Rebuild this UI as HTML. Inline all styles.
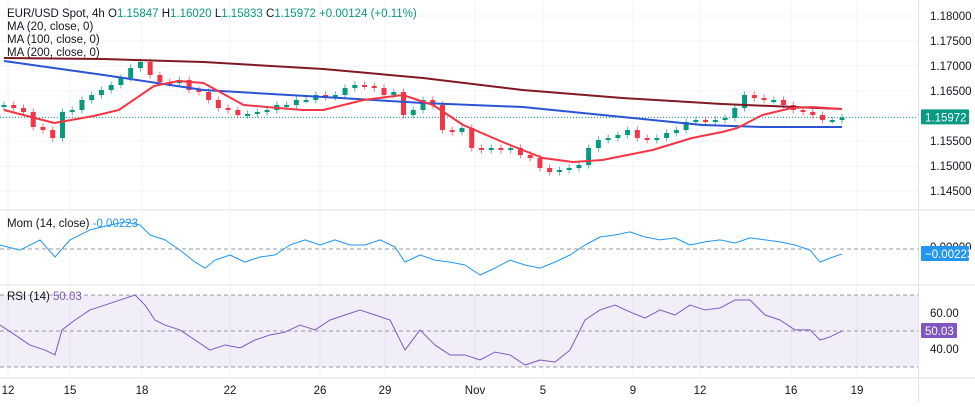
<!DOCTYPE html>
<html><head><meta charset="utf-8">
<style>
body{margin:0;background:#fff;font-family:"Liberation Sans",sans-serif;}
svg text{font-family:"Liberation Sans",sans-serif;}
</style></head>
<body>
<svg id="chart" width="975" height="402" viewBox="0 0 975 402" xmlns="http://www.w3.org/2000/svg">
<rect x="0" y="0" width="975" height="402" fill="#fff"/>
<g id="grid"></g>
<g id="rsiBand"></g>
<g id="candles"></g>
<g id="mas"></g>
<g id="mom"></g>
<g id="rsi"></g>
<g id="axes"></g>
<g id="legend">
<text x="7" y="17" font-size="11.5" fill="#131722">EUR/USD Spot, 4h <tspan fill="#131722">O</tspan><tspan fill="#089981">1.15847</tspan>  <tspan fill="#131722">H</tspan><tspan fill="#089981">1.16020</tspan>  <tspan fill="#131722">L</tspan><tspan fill="#089981">1.15833</tspan>  <tspan fill="#131722">C</tspan><tspan fill="#089981">1.15972</tspan>  <tspan fill="#089981">+0.00124 (+0.11%)</tspan></text>
<text x="7" y="30" font-size="11.5" fill="#131722">MA (20, close, 0)</text>
<text x="7" y="43" font-size="11.5" fill="#131722">MA (100, close, 0)</text>
<text x="7" y="56" font-size="11.5" fill="#131722">MA (200, close, 0)</text>
<text x="7" y="227" font-size="11.5" fill="#131722">Mom (14, close) <tspan fill="#2196f3">-0.00223</tspan></text>
<text x="7" y="300" font-size="11.5" fill="#131722">RSI (14) <tspan fill="#7e57c2">50.03</tspan></text>
</g>
</svg>
<script>
const closes=[1.1622,1.1616,1.1608,1.1578,1.1572,1.1556,1.1608,1.1612,1.1632,1.1642,1.1652,1.1662,1.1676,1.1696,1.1708,1.1682,1.1668,1.1666,1.1672,1.1652,1.1648,1.1632,1.1616,1.1612,1.1602,1.1604,1.1608,1.1612,1.1622,1.1622,1.1632,1.1632,1.1642,1.1638,1.1642,1.1656,1.1662,1.166,1.1656,1.1642,1.1648,1.1602,1.1612,1.1632,1.1622,1.1572,1.1568,1.1576,1.1536,1.1532,1.1536,1.1532,1.1536,1.1522,1.1516,1.1496,1.1488,1.1492,1.1496,1.1502,1.1536,1.1552,1.1556,1.1562,1.1572,1.1556,1.1552,1.1556,1.1566,1.1572,1.1588,1.1592,1.1588,1.1592,1.1596,1.1616,1.1642,1.1636,1.1632,1.1632,1.1622,1.1612,1.1608,1.1602,1.1592,1.1592,1.15972];
const firstOpen=1.1618;
const maPos20=[0,0.06,0.107,0.137,0.179,0.208,0.238,0.286,0.327,0.357,0.381,0.429,0.476,0.512,0.548,0.595,0.643,0.679,0.714,0.774,0.821,0.857,0.875,0.905,0.94,0.964,1];
const ma20=[1.1612,1.1586,1.1600,1.1612,1.1660,1.1670,1.1666,1.1622,1.1616,1.1612,1.1612,1.1632,1.1642,1.1622,1.1582,1.1548,1.1516,1.1508,1.1512,1.1532,1.1556,1.1568,1.1576,1.1602,1.1616,1.1618,1.1614];
const maPos100=[0,0.119,0.238,0.381,0.5,0.619,0.738,0.833,0.905,1];
const ma100=[1.1710,1.1682,1.1652,1.1638,1.1626,1.1618,1.1598,1.1582,1.1578,1.1578];
const maPos200=[0,0.119,0.238,0.381,0.5,0.619,0.738,0.857,1];
const ma200=[1.1716,1.1714,1.1708,1.1694,1.1676,1.1652,1.1636,1.1624,1.1614];
const momPos=[0,20,40,55,70,90,110,125,140,150,165,180,195,205,215,230,245,260,275,290,305,320,335,350,365,380,395,405,420,435,450,465,480,495,510,525,540,555,570,585,600,615,630,645,660,675,690,705,720,735,750,765,780,795,810,820,830,842];
const momVals=[0.0018,-0.0005,0.0041,-0.0036,0.0041,0.0086,0.0108,0.0122,0.0108,0.0063,0.0041,-0.0005,-0.0059,-0.0086,-0.005,-0.0027,-0.0059,-0.0036,-0.0027,0.0018,0.0041,0.0018,0.0041,0.0018,0.0018,0.0041,0.0009,-0.0059,-0.0027,-0.005,-0.0059,-0.0072,-0.0117,-0.0086,-0.005,-0.0072,-0.0086,-0.0059,-0.0027,0.0018,0.0054,0.0063,0.0077,0.0054,0.0041,0.005,0.0018,0.0032,0.0041,0.0027,0.005,0.0041,0.0032,0.0018,-0.0005,-0.0059,-0.0041,-0.00223];
const rsiX=[0,15,30,45,55,62,75,90,105,120,135,145,155,165,180,195,210,225,240,255,270,285,300,315,330,345,360,375,390,405,420,435,450,465,480,495,510,525,540,555,570,585,600,615,630,645,660,675,690,705,720,735,750,765,780,795,810,820,830,842];
const rsiVals=[53.3,47.8,42.2,39.4,36.7,50.6,56.1,61.7,64.4,67.2,70,64.4,56.1,53.3,50.6,45,39.4,42.2,40.6,45,47.8,49.4,53.3,50.6,56.1,58.9,61.7,58.9,56.1,39.4,50.6,42.2,36.7,36.7,33.9,38.3,36.7,31.1,33.9,32.8,39.4,56.1,61.7,64.4,60.6,57.2,61.7,58.9,64.4,61.7,62.8,67.2,67.2,58.9,56.1,50.6,50.6,45,46.7,50.03];
const priceTicks=[1.18,1.175,1.17,1.165,1.155,1.15,1.145];
const dateLabels=["12","15","18","22","26","29","Nov","5","9","12","16","19"];
const dateX=[8,70,142,230,320,385,475,543,633,700,791,857];

const NS="http://www.w3.org/2000/svg";
const x0=4,x1=842;
const yP=p=>16+(1.18-p)*5000;
const xI=i=>x0+(x1-x0)*i/(closes.length-1);
const xF=f=>x0+(x1-x0)*f;
const yMom=v=>249-v/0.00045;
const yRsi=r=>331-(r-50)*1.8;
function el(tag,attrs,parent){const e=document.createElementNS(NS,tag);for(const k in attrs)e.setAttribute(k,attrs[k]);parent.appendChild(e);return e;}

const grid=document.getElementById('grid');
priceTicks.forEach(p=>{const l=el('line',{x1:0,x2:918,y1:yP(p),y2:yP(p),stroke:'#f0f3fa'},grid);

});
dateX.forEach(x=>{const l=el('line',{x1:x,x2:x,y1:0,y2:378,stroke:'#f0f3fa'},grid);

});
[210,285,378].forEach(y=>{const l=el('line',{x1:0,x2:975,y1:y,y2:y,stroke:'#e0e3eb'},grid);

});
const vs=el('line',{x1:918.5,x2:918.5,y1:0,y2:402,stroke:'#e0e3eb'},grid);



const rb=document.getElementById('rsiBand');
const band=el('rect',{x:0,y:yRsi(70),width:918,height:yRsi(30)-yRsi(70),fill:'#7e57c2','fill-opacity':0.1},rb);


[70,50,30].forEach(v=>{const l=el('line',{x1:0,x2:918,y1:yRsi(v),y2:yRsi(v),stroke:'#9598a1','stroke-dasharray':'4,3'},rb);

});
const mz=el('line',{x1:0,x2:918,y1:yMom(0),y2:yMom(0),stroke:'#9598a1','stroke-dasharray':'4,3'},rb);


const lastC=closes[closes.length-1];
const lp=el('line',{x1:0,x2:918,y1:yP(lastC),y2:yP(lastC),stroke:'#089981','stroke-dasharray':'1,2'},rb);



const cg=document.getElementById('candles');
const bw=5;
closes.forEach((c,i)=>{
 const o=i===0?firstOpen:closes[i-1];
 const up=c>=o,col=up?'#089981':'#f23645';
 const hi=Math.max(o,c)+0.0007,lo=Math.min(o,c)-0.0007;
 const x=xI(i);
 const g=el('g',{},cg);
 
 
 el('line',{x1:x,x2:x,y1:yP(hi),y2:yP(lo),stroke:col,'stroke-width':1,'stroke-opacity':0.7},g);
 const top=yP(Math.max(o,c)),h=Math.max(2,yP(Math.min(o,c))-top);
 el('rect',{x:x-bw/2,y:top,width:bw,height:h,fill:col},g);
});

const mg=document.getElementById('mas');
function poly(pos,vals,fx,fy,col,w,name,parent){
 const pts=pos.map((p,i)=>fx(p)+','+fy(vals[i])).join(' ');
 const l=el('polyline',{points:pts,fill:'none',stroke:col,'stroke-width':w,'stroke-linejoin':'round'},parent);
 
 
}
poly(maPos200,ma200,xF,yP,'#801922',2,'ma200-line',mg);
poly(maPos100,ma100,xF,yP,'#2a54d4',2,'ma100-line',mg);
poly(maPos20,ma20,xF,yP,'#f23645',2,'ma20-line',mg);
poly(momPos,momVals,x=>x,yMom,'#2196f3',1,'momentum-line',document.getElementById('mom'));
poly(rsiX,rsiVals,x=>x,yRsi,'#7e57c2',1,'rsi-line',document.getElementById('rsi'));

const ax=document.getElementById('axes');
priceTicks.forEach(p=>{const t=el('text',{x:930,y:yP(p)+4,'font-size':11.5,fill:'#131722'},ax);t.textContent=p.toFixed(5);

});
dateLabels.forEach((d,i)=>{const t=el('text',{x:dateX[i],y:394,'font-size':11.5,fill:'#131722','text-anchor':'middle'},ax);t.textContent=d;

});
[60,40].forEach(v=>{const t=el('text',{x:930,y:yRsi(v)+4,'font-size':11.5,fill:'#131722'},ax);t.textContent=v.toFixed(2);

});
function tag(y,txt,col,name){
 const g=el('g',{},ax);
 
 
 el('rect',{x:921,y:y-8,width:txt.length>6?48:36,height:15,fill:col,rx:1},g);
 const t=el('text',{x:925,y:y+4,'font-size':11.5,fill:'#fff'},g);t.textContent=txt;
}
const mzl=el('text',{x:930,y:yMom(0)+2,'font-size':11.5,fill:'#131722'},ax);mzl.textContent='0.00000';


tag(yP(lastC),lastC.toFixed(5),'#089981','last-price-tag');
tag(yMom(momVals[momVals.length-1]),'\u22120.00223','#2196f3','mom-value-tag');
tag(yRsi(rsiVals[rsiVals.length-1]),'50.03','#7e57c2','rsi-value-tag');
</script>
</body></html>
